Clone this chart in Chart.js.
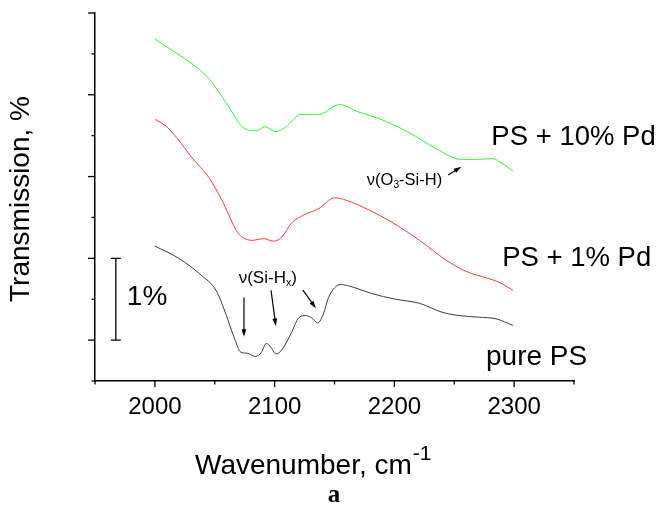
<!DOCTYPE html>
<html>
<head>
<meta charset="utf-8">
<script src="https://cdn.jsdelivr.net/npm/chart.js@4.4.0/dist/chart.umd.min.js"></script>
<style>
  html, body { margin: 0; padding: 0; background: #fff; }
  #wrap { width: 660px; height: 509px; }
</style>
</head>
<body>
<div id="wrap"><canvas id="myChart" width="660" height="509"></canvas></div>
<script>
// ===================== Data =====================
// wavenumber (cm-1) and offset transmission (1 unit = 1 %)
const pureWave = [2000, 2020, 2039, 2051, 2059, 2066, 2072, 2077, 2084, 2089, 2093, 2097, 2101, 2106, 2114, 2120, 2126, 2131, 2136, 2141, 2145, 2155, 2165, 2181, 2201, 2221, 2240, 2254, 2271, 2285, 2299];
const pureVal  = [1.15, 1.00, 0.79, 0.61, 0.33, 0.04, -0.15, -0.16, -0.20, -0.15, -0.04, -0.09, -0.17, -0.12, 0.09, 0.27, 0.30, 0.27, 0.21, 0.33, 0.52, 0.68, 0.65, 0.57, 0.50, 0.45, 0.34, 0.30, 0.28, 0.26, 0.18];

const pd1Wave = [2000, 2009, 2018, 2031, 2045, 2056, 2059, 2068, 2073, 2081, 2091, 2099, 2106, 2114, 2123, 2137, 2150, 2160, 2179, 2198, 2221, 2243, 2260, 2277, 2287, 2299];
const pd1Val  = [2.70, 2.62, 2.48, 2.23, 1.99, 1.71, 1.62, 1.34, 1.26, 1.22, 1.24, 1.21, 1.26, 1.43, 1.52, 1.61, 1.74, 1.71, 1.59, 1.44, 1.22, 0.98, 0.84, 0.76, 0.71, 0.61];

const pd10Wave = [2000, 2018, 2031, 2045, 2056, 2064, 2072, 2085, 2092, 2101, 2109, 2122, 2137, 2154, 2170, 2187, 2212, 2235, 2256, 2268, 2282, 2290, 2299];
const pd10Val  = [3.68, 3.51, 3.38, 3.20, 2.98, 2.80, 2.62, 2.56, 2.61, 2.55, 2.60, 2.76, 2.76, 2.88, 2.79, 2.71, 2.54, 2.34, 2.21, 2.21, 2.22, 2.16, 2.07];

const seriesNames = ["pure PS", "PS + 1% Pd", "PS + 10% Pd"];
const xTickLabels = ["2000", "2100", "2200", "2300"];
// ===================== Data =====================

const FONT = "'Liberation Sans', Arial, sans-serif";

function toPoints(xs, ys) {
    return xs.map((x, i) => ({ x: x, y: ys[i] }));
}

// draw a run of text pieces (normal / sub) starting at x, centred on y
function richText(ctx, pieces, x, y, size) {
    ctx.textBaseline = 'middle';
    ctx.textAlign = 'left';
    pieces.forEach(p => {
        const s = p.small ? size * 0.62 : size;
        ctx.font = s + "px " + FONT;
        ctx.fillText(p.t, x, y + (p.dy || 0) * size);
        x += ctx.measureText(p.t).width;
    });
}

function arrow(ctx, x1, y1, x2, y2) {
    const a = Math.atan2(y2 - y1, x2 - x1);
    const h = 8;
    ctx.beginPath();
    ctx.moveTo(x1, y1);
    ctx.lineTo(x2 - Math.cos(a) * h * 0.6, y2 - Math.sin(a) * h * 0.6);
    ctx.stroke();
    ctx.beginPath();
    ctx.moveTo(x2, y2);
    ctx.lineTo(x2 - h * Math.cos(a - 0.3), y2 - h * Math.sin(a - 0.3));
    ctx.lineTo(x2 - h * Math.cos(a + 0.3), y2 - h * Math.sin(a + 0.3));
    ctx.closePath();
    ctx.fill();
}

const overlay = {
    id: 'overlay',
    afterDraw(chart) {
        const ctx = chart.ctx;
        const xs = chart.scales.x, ys = chart.scales.y;
        const X = v => xs.getPixelForValue(v);
        const Y = v => ys.getPixelForValue(v);
        const area = chart.chartArea;
        ctx.save();
        ctx.strokeStyle = '#000';
        ctx.fillStyle = '#000';
        ctx.lineWidth = 1.3;

        // tick marks (major long, minor short)
        xs.ticks.forEach(t => {
            const px = X(t.value);
            const len = t.value % 100 === 0 ? 6 : 3.5;
            ctx.beginPath();
            ctx.moveTo(px, area.bottom);
            ctx.lineTo(px, area.bottom + len);
            ctx.stroke();
        });
        ys.ticks.forEach(t => {
            const py = Y(t.value);
            const len = Number.isInteger(t.value) ? 7 : 3.5;
            ctx.beginPath();
            ctx.moveTo(area.left, py);
            ctx.lineTo(area.left - len, py);
            ctx.stroke();
        });

        // axis titles
        ctx.save();
        ctx.translate(21, 199);
        ctx.rotate(-Math.PI / 2);
        ctx.font = "28px " + FONT;
        ctx.textAlign = 'center';
        ctx.textBaseline = 'middle';
        ctx.fillText("Transmission, %", 0, 0);
        ctx.restore();

        ctx.textAlign = 'left';
        ctx.textBaseline = 'middle';
        ctx.font = "28px " + FONT;
        const w1 = ctx.measureText("Wavenumber, cm").width;
        const tx = 195;
        ctx.fillText("Wavenumber, cm", tx, 466);
        ctx.font = "21px " + FONT;
        ctx.fillText("-1", tx + w1 + 1, 454);

        ctx.font = "bold 25px 'Liberation Serif', 'DejaVu Serif', serif";
        ctx.textAlign = 'center';
        ctx.fillText("a", 334, 496);

        // series labels
        ctx.font = "27.5px " + FONT;
        ctx.textAlign = 'left';
        ctx.fillText(seriesNames[2], X(2281), Y(2.48));
        ctx.fillText(seriesNames[1], X(2290), Y(1.0));
        ctx.font = "28px " + FONT;
        ctx.fillText(seriesNames[0], X(2276.5), Y(-0.21));

        // 1 % scale bar
        ctx.lineWidth = 1.3;
        const bx = X(1967.4);
        ctx.beginPath();
        ctx.moveTo(bx, Y(0)); ctx.lineTo(bx, Y(1));
        ctx.moveTo(bx - 5, Y(0)); ctx.lineTo(bx + 5, Y(0));
        ctx.moveTo(bx - 5, Y(1)); ctx.lineTo(bx + 5, Y(1));
        ctx.stroke();
        ctx.font = "28px " + FONT;
        ctx.fillText("1%", X(1976.6), Y(0.52));

        // nu(Si-Hx) annotation
        richText(ctx, [{ t: "\u03BD(Si-H" }, { t: "x", small: true, dy: 0.3 }, { t: ")" }], X(2070), Y(0.76), 17);
        ctx.lineWidth = 1.2;
        arrow(ctx, X(2074.4), Y(0.52), X(2074.4), Y(0.04));
        arrow(ctx, X(2097), Y(0.61), X(2101), Y(0.17));
        arrow(ctx, X(2123.6), Y(0.61), X(2134.5), Y(0.39));

        // nu(O3-Si-H) annotation
        richText(ctx, [{ t: "\u03BD(O" }, { t: "3", small: true, dy: 0.3 }, { t: "-Si-H)" }], X(2177), Y(1.95), 16.5);
        arrow(ctx, X(2245), Y(2.02), X(2256), Y(2.12));

        ctx.restore();
    }
};

const ctx = document.getElementById("myChart").getContext("2d");
const chart = new Chart(ctx, {
    type: "line",
    data: {
        datasets: [
            { label: seriesNames[0], data: toPoints(pureWave, pureVal), borderColor: "#3a3a3a" },
            { label: seriesNames[1], data: toPoints(pd1Wave, pd1Val), borderColor: "#ff3b3b" },
            { label: seriesNames[2], data: toPoints(pd10Wave, pd10Val), borderColor: "#3cf03c" },
        ],
    },
    options: {
        responsive: false,
        animation: false,
        elements: {
            line: { borderWidth: 1, cubicInterpolationMode: 'monotone', fill: false },
            point: { radius: 0 }
        },
        layout: { padding: { top: 13, right: 86, left: 0, bottom: 0 } },
        plugins: { legend: { display: false }, tooltip: { enabled: false } },
        scales: {
            x: {
                type: "linear",
                min: 1950,
                max: 2350,
                grid: { display: false, drawTicks: false },
                border: { display: true, color: '#000', width: 1.5 },
                ticks: {
                    stepSize: 50,
                    autoSkip: false,
                    maxRotation: 0,
                    padding: 12,
                    color: '#000',
                    font: { family: FONT, size: 24 },
                    callback: v => xTickLabels.includes(String(v)) ? String(v) : ''
                },
                afterFit: s => { s.height = 128; }
            },
            y: {
                type: "linear",
                min: -0.5,
                max: 4.0,
                grid: { display: false, drawTicks: false },
                border: { display: true, color: '#000', width: 1.5 },
                ticks: { stepSize: 0.5, display: false },
                afterFit: s => { s.width = 95; }
            }
        }
    },
    plugins: [overlay]
});
</script>
</body>
</html>
